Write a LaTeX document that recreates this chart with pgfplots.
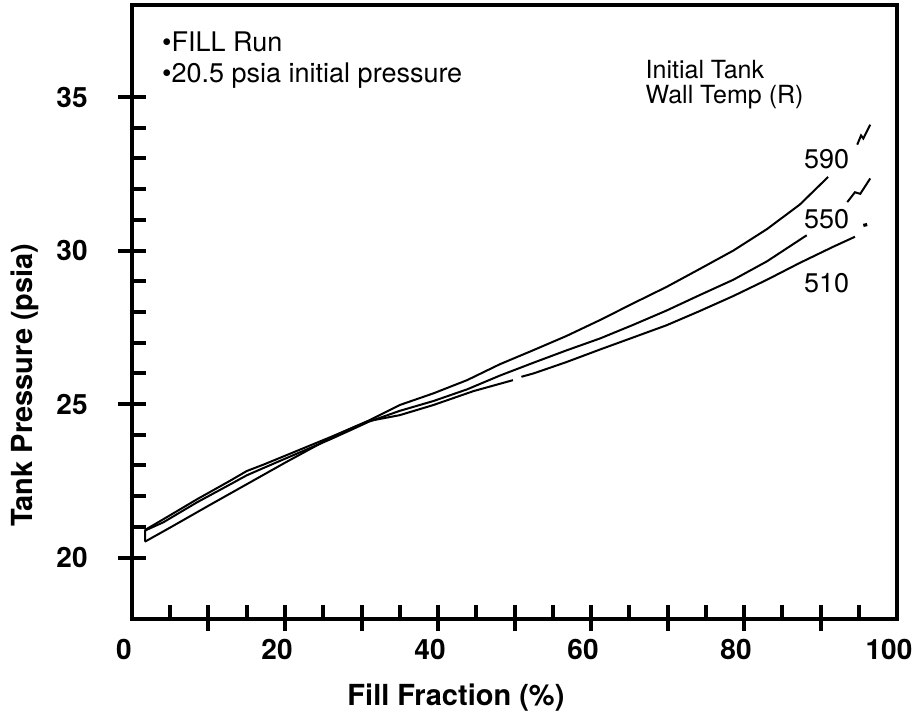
\documentclass[border=0pt]{standalone}
\usepackage{fontspec}
\setmainfont{TeX Gyre Heros}
\usepackage{pgfplots}
\pgfplotsset{compat=1.18}
\usetikzlibrary{calc}
\begin{document}
\begin{tikzpicture}
\begin{axis}[
  name=ax,
  scale only axis,
  width=382.5pt, height=307pt,
  xmin=0, xmax=100, ymin=18, ymax=38,
  axis line style={line width=2.2pt},
  xtick={0,20,...,100},
  minor x tick num=3,
  ytick={20,25,30,35},
  minor y tick num=4,
  tick align=inside,
  xtick pos=bottom, ytick pos=left,
  major tick length=7pt, minor tick length=7pt,
  tick style={line width=2pt, black},
  extra x ticks={10,20,...,90},
  extra x tick labels={},
  extra x tick style={tick align=outside, major tick length=6pt},
  extra y ticks={20,25,30,35},
  extra y tick labels={},
  extra y tick style={tick align=outside, major tick length=7pt},
  /pgf/number format/assume math mode=true,
  ticklabel style={font=\fontsize{14}{14}\selectfont\bfseries},
  xticklabel style={inner sep=0pt, anchor=north, yshift=-10pt, xshift=-4pt},
  yticklabel style={inner sep=0pt, anchor=east, xshift=-22pt},
  xlabel={Fill Fraction (\%)},
  ylabel={Tank Pressure (psia)},
  label style={font=\fontsize{14.5}{15}\selectfont\bfseries},
  xlabel style={at={(axis description cs:0.4235,0)}, anchor=base, yshift=-43.5pt},
  ylabel style={at={(axis description cs:0,0.381)}, anchor=center, yshift=53.5pt},
]
% 590 R
\addplot[black, line width=1pt] coordinates {
(1.7,20.52) (5,20.98) (10,21.69) (15,22.39) (20,23.09) (25.9,23.89) (29,24.25) (31,24.47)
(35,24.97) (39.4,25.35) (43.8,25.78) (48.1,26.3) (52.5,26.76) (56.8,27.22) (61.2,27.74)
(65.5,28.28) (69.9,28.82) (74.2,29.4) (78.6,30.0) (83.0,30.7) (87.3,31.5) (91.0,32.4)};
\addplot[black, line width=1pt] coordinates {
(94.8,33.45) (95.3,33.75) (95.6,33.65) (96.2,33.95) (96.5,34.1)};
% 550 R
\addplot[black, line width=1pt] coordinates {
(1.7,20.52) (1.7,20.88) (4.1,21.15) (8.5,21.8) (12.8,22.38) (15,22.68) (17.2,22.92)
(21.5,23.38) (25.9,23.85) (29,24.2) (31,24.43) (35,24.78) (39.4,25.1) (43.8,25.48)
(48.1,25.93) (52.5,26.35) (56.8,26.75) (61.2,27.14) (65.5,27.58) (69.9,28.05)
(74.2,28.55) (78.6,29.05) (83.0,29.65) (88.2,30.5)};
\addplot[black, line width=1pt] coordinates {
(93.5,31.58) (94.5,31.9) (95.2,31.85) (96.5,32.35)};
% 510 R
\addplot[black, line width=1pt] coordinates {
(1.7,20.9) (4.1,21.25) (8.5,21.9) (12.8,22.5) (15,22.82) (17.2,23.03) (21.5,23.47)
(25.9,23.92) (29,24.25) (31,24.45) (35,24.64) (39.4,24.97) (44.6,25.42) (49.8,25.78)};
\addplot[black, line width=1pt] coordinates {
(50.9,25.89) (52.5,26.0) (56.8,26.37) (61.2,26.78) (65.5,27.17) (69.9,27.57) (74.2,28.03)
(78.6,28.52) (83.0,29.05) (87.3,29.6) (91.7,30.13) (94.5,30.45)};
\addplot[black, line width=1.6pt] coordinates {(95.6,30.82) (96.1,30.85)};
% annotations
\node[anchor=base west, inner sep=0pt, font=\fontsize{13.5}{14}\selectfont] at (axis cs:3.9,36.47) {\textbullet FILL Run};
\node[anchor=base west, inner sep=0pt, font=\fontsize{13.5}{14}\selectfont] at (axis cs:3.9,35.46) {\textbullet 20.5 psia initial pressure};
\node[anchor=base west, inner sep=0pt, font=\fontsize{12.5}{13}\selectfont] at (axis cs:67.1,35.6) {Initial Tank};
\node[anchor=base west, inner sep=0pt, font=\fontsize{12.5}{13}\selectfont] at (axis cs:67.1,34.8) {Wall Temp (R)};
\node[anchor=center, inner sep=0pt, font=\fontsize{13.5}{14}\selectfont] at (axis cs:90.8,32.98) {590};
\node[anchor=center, inner sep=0pt, font=\fontsize{13.5}{14}\selectfont] at (axis cs:90.8,31.03) {550};
\node[anchor=center, inner sep=0pt, font=\fontsize{13.5}{14}\selectfont] at (axis cs:90.8,28.95) {510};
\end{axis}
\pgfresetboundingbox
\path ($(ax.south west)+(-66pt,-49pt)$) rectangle ($(ax.north east)+(9.5pt,2.5pt)$);
\end{tikzpicture}
\end{document}
